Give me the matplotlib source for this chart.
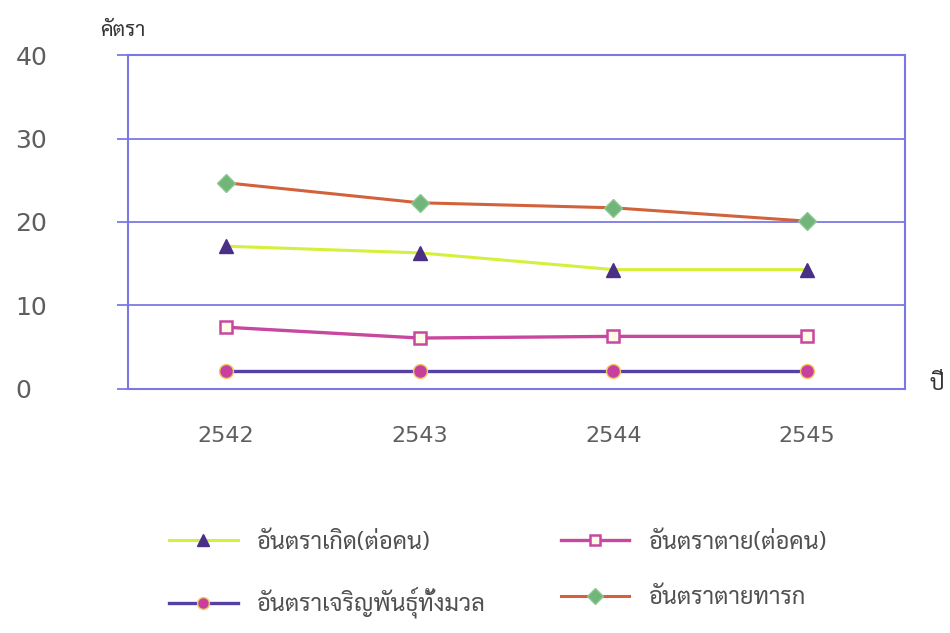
import matplotlib
matplotlib.use("Agg")
import matplotlib.pyplot as plt

# data
years = ["2542", "2543", "2544", "2545"]
birth_rate = [17.1, 16.3, 14.3, 14.3]       # อันตราเกิด(ต่อคน)
death_rate = [7.4, 6.1, 6.3, 6.3]           # อันตราตาย(ต่อคน)
fertility = [2.2, 2.2, 2.2, 2.2]            # อันตราเจริญพันธุ์ทั้งมวล
infant_mort = [24.7, 22.3, 21.7, 20.1]      # อันตราตายทารก
yticks = [0, 10, 20, 30, 40]

thai = ["Sarabun", "Noto Sans Thai Looped", "Noto Sans Thai", "Athiti", "DejaVu Sans"]
plt.rcParams["font.family"] = thai

frame = "#7b78e4"
grey = "#5e5e5e"

fig = plt.figure(figsize=(9.5, 6.33), dpi=100)
ax = fig.add_axes([0.1347, 0.3855, 0.818, 0.5276])

x = range(len(years))
l1, = ax.plot(x, birth_rate, color="#d6ef3c", lw=2.2, marker="^", ms=10,
              mfc="#4a2f86", mec="#4a2f86", label="อันตราเกิด(ต่อคน)", zorder=3)
l2, = ax.plot(x, death_rate, color="#c8479f", lw=2.4, marker="s", ms=9,
              mfc="#fffbe8", mec="#c8479f", mew=1.8, label="อันตราตาย(ต่อคน)", zorder=3)
l3, = ax.plot(x, fertility, color="#5540a6", lw=2.4, marker="o", ms=10,
              mfc="#c8409e", mec="#f0c860", mew=1.0, label="อันตราเจริญพันธุ์ทั้งมวล", zorder=3)
l4, = ax.plot(x, infant_mort, color="#d2623c", lw=2.2, marker="D", ms=9,
              mfc="#72b57a", mec="#8cc890", label="อันตราตายทารก", zorder=3)

ax.set_xlim(-0.505, 3.505)
ax.set_ylim(0, 40)
ax.set_yticks(yticks)
ax.set_yticklabels([str(v) for v in yticks], fontfamily="DejaVu Sans",
                   fontsize=18, color=grey, ha="left")
ax.tick_params(axis="y", length=8, width=1.3, color=frame, pad=73)
ax.set_xticks(list(x))
ax.set_xticklabels(years, fontfamily="DejaVu Sans", fontsize=16, color=grey)
ax.tick_params(axis="x", length=0, pad=27)

ax.grid(axis="y", color=frame, lw=1.3)
ax.set_axisbelow(True)
for s in ax.spines.values():
    s.set_color(frame)
    s.set_linewidth(1.5)

fig.text(100 / 950, 1 - 30 / 633, "คัตรา", fontsize=15, color="#333333", va="center")
fig.text(930 / 950, 1 - 385 / 633, "ปี", fontsize=16, color="#333333", va="center")

fig.legend(handles=[l1, l3, l2, l4], ncol=2, frameon=False, fontsize=17,
           loc="center", bbox_to_anchor=(0.524, 0.092), handlelength=2.9,
           markerscale=0.85, labelspacing=1.4, columnspacing=3.2,
           labelcolor="#505050")

fig.savefig("out.png")
